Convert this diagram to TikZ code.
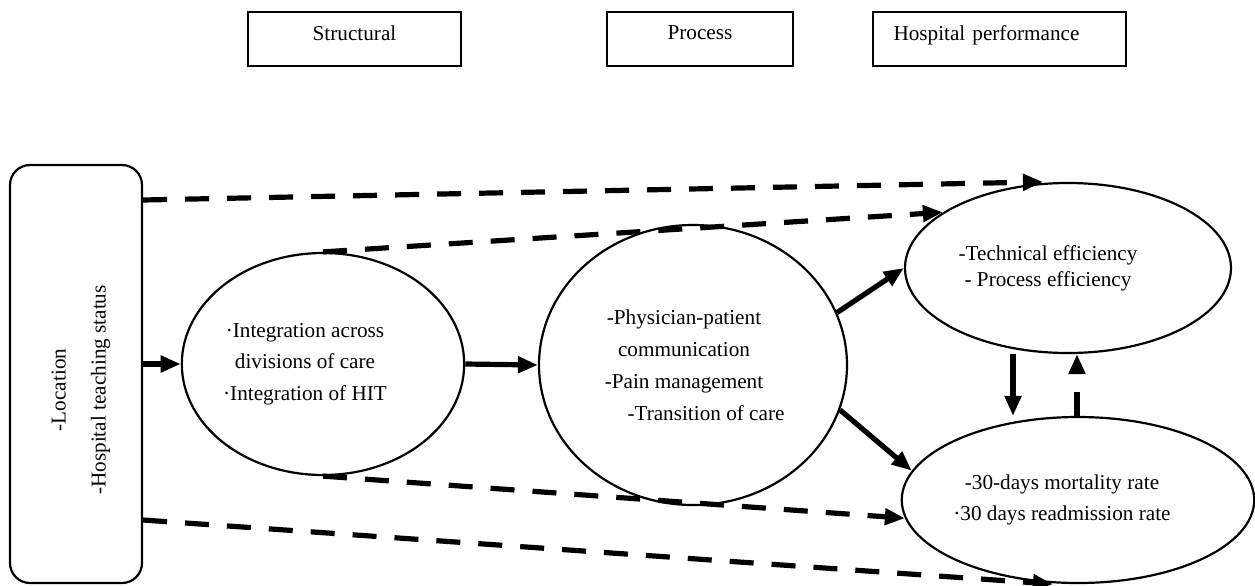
\documentclass[tikz,border=0pt]{standalone}
\usepackage{fontspec}
\setmainfont{Liberation Serif}
\usetikzlibrary{arrows.meta,shapes.geometric}

\newcommand{\padr}[1]{\rule{#1}{0pt}}

\begin{document}
\begin{tikzpicture}[x=0.5pt,y=-0.5pt,
  font=\fontsize{10.6}{15.75}\selectfont,
  headbox/.style={draw, line width=0.8pt, minimum height=27pt, text depth=6pt},
  oval/.style={draw, ellipse, line width=1.1pt, inner sep=0pt, align=center},
  solidarr/.style={line width=2.6pt, -{Triangle[length=10pt,width=8pt]}},
  dasharr/.style={solidarr, dash pattern=on 12pt off 9pt}]
\useasboundingbox (0,0) rectangle (1255,585);
% top headings
\node[headbox, minimum width=106.5pt] (structural) at (354.5,39) {Structural};
\node[headbox, minimum width=93pt] (process) at (700,39) {Process};
\node[headbox, minimum width=126.5pt, text width=106pt, align=left] (performance) at (999.5,39) {Hospital performance};
% left box
\node[draw, line width=1.1pt, rounded corners=10pt, minimum width=66pt, minimum height=209pt] (factors) at (76,374) {};
\node[rotate=90, align=center, font=\fontsize{10.6}{20}\selectfont] (factorstext) at (81,390) {-Location\\-Hospital teaching status};
% ovals
\node[oval, minimum width=138pt, minimum height=111pt] (integration) at (323,364) {·Integration across\padr{18pt}\\ divisions of care\padr{18pt}\\ ·Integration of HIT\padr{18pt}};
\node[oval, minimum width=154pt, minimum height=140pt, font=\fontsize{10.6}{16}\selectfont] (communication) at (693,365) {-Physician-patient\padr{9pt}\\ communication\padr{9pt}\\ -Pain management\padr{9pt}\\ \padr{13pt}-Transition of care};
\node[oval, minimum width=163pt, minimum height=85pt, font=\fontsize{10.6}{13}\selectfont] (efficiency) at (1068,268) {-Technical efficiency\padr{20pt}\\ - Process efficiency\padr{20pt}};
\node[oval, minimum width=174pt, minimum height=83pt, font=\fontsize{10.6}{15.5}\selectfont] (outcome) at (1078,500) {-30-days mortality rate\padr{16pt}\\ ·30 days readmission rate\padr{16pt}};
% arrows
\draw[dasharr] ([yshift=87pt]factors.east) -- ([xshift=-12.5pt]efficiency.north);
\draw[dasharr] (integration.north) -- (efficiency.156);
\draw[solidarr] (factors.east |- integration) -- (integration.west);
\draw[solidarr] (integration.east) -- (communication.west);
\draw[solidarr] (communication.20) -- (efficiency.west);
\draw[solidarr] (communication.-17) -- (outcome.170);
\draw[dasharr] (integration.south) -- (outcome.186);
\draw[dasharr] ([yshift=-73pt]factors.east) -- ([xshift=-12.5pt]outcome.south);
\draw[solidarr] ([xshift=-27.5pt]efficiency.south) -- ([xshift=-32.5pt]outcome.north);
\draw[dasharr] ([xshift=-0.5pt]outcome.north) -- ([xshift=4.5pt]efficiency.south);
\end{tikzpicture}
\end{document}
